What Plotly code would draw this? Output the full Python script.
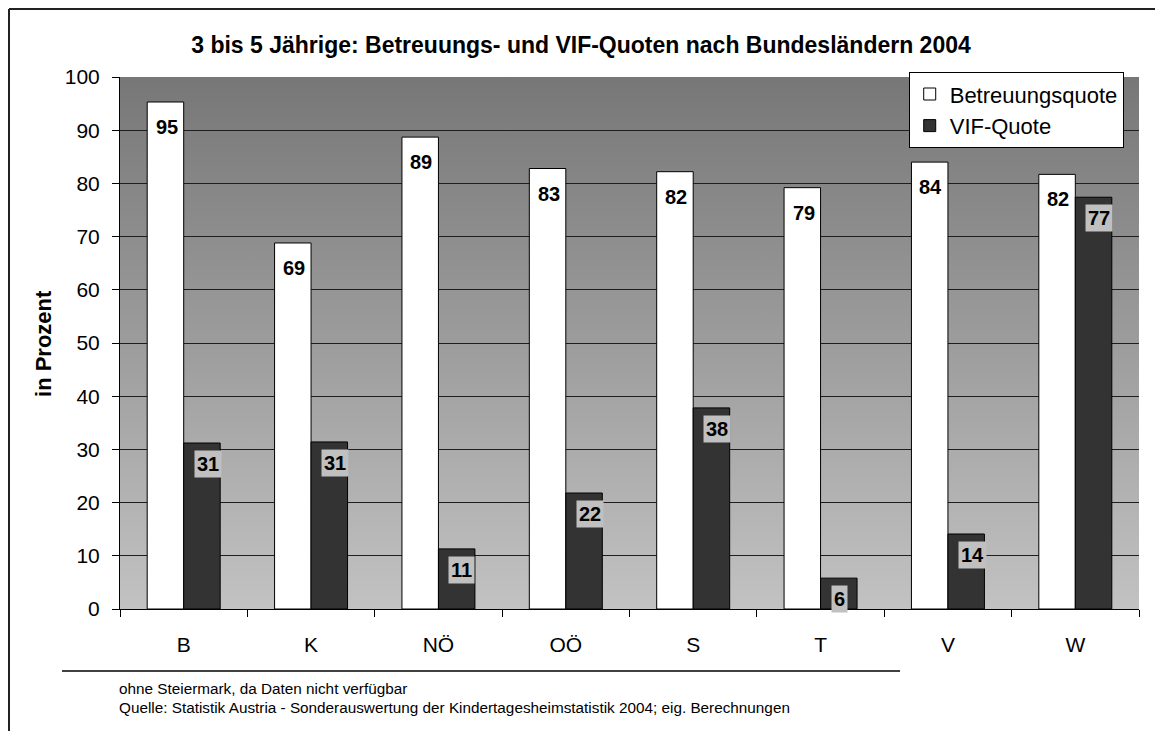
import base64
import plotly.graph_objects as go

# ---- data ----
categories = ["B", "K", "NÖ", "OÖ", "S", "T", "V", "W"]
betreuungsquote = [95.3, 68.8, 88.7, 82.8, 82.2, 79.2, 84.0, 81.7]
vif_quote = [31.2, 31.4, 11.3, 21.8, 37.8, 5.8, 14.1, 77.4]
betreuung_labels = ["95", "69", "89", "83", "82", "79", "84", "82"]
vif_labels = ["31", "31", "11", "22", "38", "6", "14", "77"]
y_ticks = [0, 10, 20, 30, 40, 50, 60, 70, 80, 90, 100]

title_text = "3 bis 5 Jährige: Betreuungs- und VIF-Quoten nach Bundesländern 2004"
note1 = "ohne Steiermark, da Daten nicht verfügbar"
note2 = "Quelle: Statistik Austria - Sonderauswertung der Kindertagesheimstatistik 2004; eig. Berechnungen"

FONT = "Liberation Sans, Arial, sans-serif"

# gradient background for plot area (svg data uri)
svg = ('<svg xmlns="http://www.w3.org/2000/svg" width="100" height="100" viewBox="0 0 100 100" '
       'preserveAspectRatio="none"><defs><linearGradient id="g" x1="0" y1="0" x2="0" y2="1">'
       '<stop offset="0" stop-color="#777777"/><stop offset="1" stop-color="#c2c2c2"/>'
       '</linearGradient></defs><rect width="100" height="100" fill="url(#g)"/></svg>')
svg_uri = "data:image/svg+xml;base64," + base64.b64encode(svg.encode()).decode()

fig = go.Figure()
fig.add_trace(go.Bar(
    x=categories, y=betreuungsquote, name="Betreuungsquote",
    marker=dict(color="#ffffff", line=dict(color="#000000", width=1)),
    hoverinfo="skip",
))
fig.add_trace(go.Bar(
    x=categories, y=vif_quote, name="VIF-Quote",
    marker=dict(color="#333333", line=dict(color="#000000", width=1)),
    hoverinfo="skip",
))

annotations = []
for c, v, t in zip(categories, betreuungsquote, betreuung_labels):
    annotations.append(dict(
        x=c, y=v, xref="x", yref="y", text="<b>%s</b>" % t, showarrow=False,
        xanchor="center", yanchor="middle", xshift=-17, yshift=-25,
        font=dict(family=FONT, size=20, color="#000000"),
    ))
for c, v, t in zip(categories, vif_quote, vif_labels):
    annotations.append(dict(
        x=c, y=v, xref="x", yref="y", text="<b>%s</b>" % t, showarrow=False,
        xanchor="left", yanchor="top", xshift=10, yshift=-7,
        bgcolor="#c0c0c0", borderpad=2,
        font=dict(family=FONT, size=20, color="#000000"),
    ))

# axis title
annotations.append(dict(
    x=-0.0756, y=0.5, xref="paper", yref="paper", text="<b>in Prozent</b>",
    textangle=-90, showarrow=False, xanchor="center", yanchor="middle",
    font=dict(family=FONT, size=22, color="#000000"),
))
# footnotes
annotations.append(dict(
    x=-0.003, y=-0.1485, xref="paper", yref="paper", text=note1, showarrow=False,
    xanchor="left", yanchor="middle", font=dict(family=FONT, size=15.3, color="#000000"),
))
annotations.append(dict(
    x=-0.003, y=-0.186, xref="paper", yref="paper", text=note2, showarrow=False,
    xanchor="left", yanchor="middle", font=dict(family=FONT, size=15.3, color="#000000"),
))

FRAME_Y = 1 + 68 / 532
FRAME_X = (1 - 112) / 1019
shapes = [
    # separator line below x labels
    dict(type="line", xref="paper", yref="paper", x0=-0.0569, x1=0.7655, y0=-0.1165, y1=-0.1165,
         line=dict(color="#000000", width=1.5)),
    # outer frame (top and left)
    dict(type="line", xref="paper", yref="paper", x0=FRAME_X, x1=1.2, y0=FRAME_Y, y1=FRAME_Y,
         line=dict(color="#222222", width=2)),
    dict(type="line", xref="paper", yref="paper", x0=FRAME_X, x1=FRAME_X, y0=FRAME_Y, y1=-0.4,
         line=dict(color="#222222", width=2)),
]

W, H = 1155, 723
fig.update_layout(
    width=W, height=H,
    margin=dict(l=112, r=24, t=69, b=122),
    paper_bgcolor="#ffffff",
    plot_bgcolor="rgba(0,0,0,0)",
    barmode="group", bargap=0.427, bargroupgap=0,
    font=dict(family=FONT, size=21, color="#000000"),
    title=dict(text="<b>%s</b>" % title_text, x=573 / W, xref="container", xanchor="center",
               y=1 - 37 / H, yref="container", yanchor="middle",
               font=dict(family=FONT, size=23, color="#000000")),
    legend=dict(x=0.774, y=1.009, xanchor="left", yanchor="top",
                bgcolor="#ffffff", bordercolor="#000000", borderwidth=1,
                font=dict(family=FONT, size=22, color="#000000"),
                traceorder="normal"),
    xaxis=dict(type="category", showline=True, linecolor="#000000", linewidth=1,
               ticks="outside", tickson="boundaries", ticklen=7, tickcolor="#000000",
               showgrid=False, tickfont=dict(family=FONT, size=21), ticklabelstandoff=17),
    yaxis=dict(range=[0, 100], tickvals=y_ticks, showline=True, linecolor="#000000", linewidth=1,
               ticks="outside", ticklen=7, tickcolor="#000000",
               showgrid=True, gridcolor="#1e1e1e", gridwidth=1, zeroline=False,
               tickfont=dict(family=FONT, size=21), ticklabelstandoff=8),
    images=[dict(source=svg_uri, xref="x domain", yref="y domain", x=0, y=1,
                 sizex=1, sizey=1, xanchor="left", yanchor="top", sizing="stretch",
                 layer="below")],
    annotations=annotations,
    shapes=shapes,
    showlegend=True,
)

fig.write_html("out.html")
